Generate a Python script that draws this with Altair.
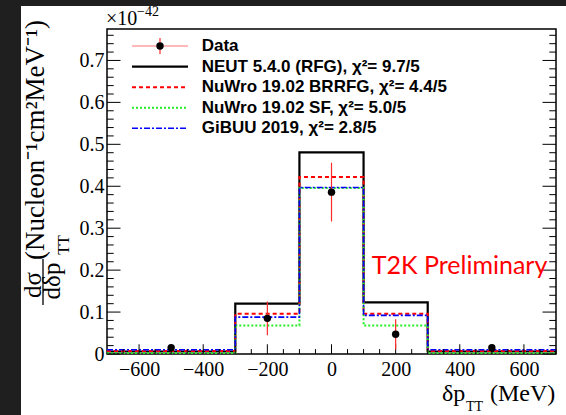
import altair as alt
import pandas as pd
import numpy as np

# ---------------- data ----------------
bin_edges = [-700, -300, -100, 100, 300, 700]
neut = [0.006, 0.120, 0.481, 0.123, 0.006]
nuwro_brrfg = [0.007, 0.096, 0.422, 0.096, 0.007]
nuwro_sf = [0.002, 0.068, 0.396, 0.068, 0.002]
gibuu = [0.010, 0.088, 0.397, 0.092, 0.010]

data_x = [-500, -200, 0, 200, 500]
data_y = [0.015, 0.085, 0.386, 0.047, 0.015]
data_err = [0.004, 0.040, 0.070, 0.036, 0.004]

x_tick_labels = [-600, -400, -200, 0, 200, 400, 600]
y_tick_labels = [0, 0.1, 0.2, 0.3, 0.4, 0.5, 0.6, 0.7]
x_minor = [v for v in range(-650, 701, 50) if v % 200 != 0]
y_minor = [round(0.02 * k, 3) for k in range(0, 39) if k % 5 != 0]

legend_labels = [
    "Data",
    "NEUT 5.4.0 (RFG),  χ²= 9.7/5",
    "NuWro 19.02 BRRFG, χ²= 4.4/5",
    "NuWro 19.02 SF, χ²= 5.0/5",
    "GiBUU 2019, χ²= 2.8/5",
]

# ---------------- layout ----------------
W, H = 449, 325
PADL, PADT = 107, 29
XS = alt.Scale(domain=[-700, 700], nice=False, zero=False)
YS = alt.Scale(domain=[0, 0.775], nice=False, zero=False)
SERIF = "Liberation Serif"

xaxis = alt.Axis(values=x_tick_labels, ticks=False, domain=False, grid=False,
                 labelFont=SERIF, labelFontSize=20, labelColor="black",
                 labelPadding=5, title=None, labelFlush=False)
yaxis = alt.Axis(values=y_tick_labels, ticks=False, domain=False, grid=False,
                 labelFont=SERIF, labelFontSize=20, labelColor="black",
                 labelPadding=3, title=None, labelFlush=False,
                 labelExpr="datum.value == 0 ? '0' : format(datum.value, '.1f')")

one = pd.DataFrame({"a": [0]})
layers = []

# dark surroundings
layers.append(alt.Chart(one).mark_rect(color="#1f1f1f").encode(
    x=alt.value(-PADL), x2=alt.value(21 - PADL), y=alt.value(-PADT), y2=alt.value(415 - PADT)))
layers.append(alt.Chart(one).mark_rect(color="#1f1f1f").encode(
    x=alt.value(21 - PADL), x2=alt.value(566 - PADL), y=alt.value(-PADT), y2=alt.value(6 - PADT)))


def hist_layer(vals, color, dash, width):
    df = pd.DataFrame({"x": bin_edges, "y": vals + [vals[-1]]})
    kw = dict(color=color, strokeWidth=width, interpolate="step-after", clip=True)
    if dash:
        kw["strokeDash"] = dash
    return alt.Chart(df).mark_line(**kw).encode(
        x=alt.X("x:Q", scale=XS, axis=xaxis),
        y=alt.Y("y:Q", scale=YS, axis=yaxis),
        order="x:Q")


styles = [
    (neut, "black", None, 2.2),
    (nuwro_brrfg, "#ff0000", [4, 3], 2),
    (nuwro_sf, "#22ee22", [2, 2], 2),
    (gibuu, "#0000ff", [6, 2, 2, 2], 1.6),
]
for vals, c, d, w in styles:
    layers.append(hist_layer(vals, c, d, w))

# ticks (ROOT style, inward)
ymaj = pd.DataFrame({"v": y_tick_labels})
ymin = pd.DataFrame({"v": y_minor})
xmaj = pd.DataFrame({"v": x_tick_labels})
xmin = pd.DataFrame({"v": x_minor})
for df, ln in ((ymaj, 13.5), (ymin, 6.7)):
    layers.append(alt.Chart(df).mark_rule(color="black", strokeWidth=1).encode(
        y=alt.Y("v:Q", scale=YS, axis=yaxis), x=alt.value(0), x2=alt.value(ln)))
    layers.append(alt.Chart(df).mark_rule(color="black", strokeWidth=1).encode(
        y=alt.Y("v:Q", scale=YS, axis=yaxis), x=alt.value(W - ln), x2=alt.value(W)))
for df, ln in ((xmaj, 9.75), (xmin, 4.9)):
    layers.append(alt.Chart(df).mark_rule(color="black", strokeWidth=1).encode(
        x=alt.X("v:Q", scale=XS, axis=xaxis), y=alt.value(H), y2=alt.value(H - ln)))

# data points
ddf = pd.DataFrame({"x": data_x, "y": data_y, "err": data_err})
ddf["lo"] = ddf["y"] - ddf["err"]
ddf["hi"] = ddf["y"] + ddf["err"]
layers.append(alt.Chart(ddf).mark_rule(color="#ff2a2a", strokeWidth=1.2).encode(
    x=alt.X("x:Q", scale=XS, axis=xaxis), y=alt.Y("lo:Q", scale=YS, axis=yaxis), y2="hi:Q"))
layers.append(alt.Chart(ddf).mark_circle(color="black", opacity=1, size=55).encode(
    x=alt.X("x:Q", scale=XS, axis=xaxis), y=alt.Y("y:Q", scale=YS, axis=yaxis)))

# legend
rows = [46 - PADT, 66.7 - PADT, 87.3 - PADT, 107.7 - PADT, 128.3 - PADT]
sx0, sx1, tx = 132 - PADL, 188 - PADL, 201.7 - PADL
# data symbol
layers.append(alt.Chart(one).mark_rule(color="#ff7070", strokeWidth=1.2).encode(
    x=alt.value(sx0), x2=alt.value(sx1), y=alt.value(rows[0])))
layers.append(alt.Chart(one).mark_rule(color="#ff2a2a", strokeWidth=1.2).encode(
    x=alt.value((sx0 + sx1) / 2), y=alt.value(rows[0] - 8), y2=alt.value(rows[0] + 8)))
layers.append(alt.Chart(one).mark_circle(color="black", opacity=1, size=55).encode(
    x=alt.value((sx0 + sx1) / 2), y=alt.value(rows[0])))
for i, (vals, c, d, w) in enumerate(styles):
    kw = dict(color=c, strokeWidth=w)
    if d:
        kw["strokeDash"] = d
    layers.append(alt.Chart(one).mark_rule(**kw).encode(
        x=alt.value(sx0), x2=alt.value(sx1), y=alt.value(rows[i + 1])))
for i, lab in enumerate(legend_labels):
    layers.append(alt.Chart(pd.DataFrame({"t": [lab]})).mark_text(
        font="Liberation Sans", fontSize=17, fontWeight="bold", color="black",
        align="left", baseline="middle").encode(
        text="t:N", x=alt.value(tx), y=alt.value(rows[i])))

# T2K Preliminary
layers.append(alt.Chart(pd.DataFrame({"t": ["T2K Preliminary"]})).mark_text(
    font="Lato", fontSize=25, color="#ff0000", align="left", baseline="alphabetic").encode(
    text="t:N", x=alt.value(371.7 - PADL), y=alt.value(273.5 - PADT)))


def txt(s, x, y, size, angle=0, align="left", baseline="alphabetic"):
    kw = dict(font=SERIF, fontSize=size, color="black", align=align, baseline=baseline)
    if angle:
        kw["angle"] = angle
    return alt.Chart(pd.DataFrame({"t": [s]})).mark_text(**kw).encode(
        text="t:N", x=alt.value(x - PADL), y=alt.value(y - PADT))


# x10^-42
layers.append(txt("×10", 106, 25, 20))
layers.append(txt("−42", 137, 16, 14))
# x axis title
layers.append(txt("δp", 442, 401, 24))
layers.append(txt("TT", 466, 411, 14))
layers.append(txt("(MeV)", 490, 401, 24))
# y axis title (rotated)
layers.append(txt("(Nucleon⁻¹cm²MeV⁻¹)", 36, 140, 27, angle=270, align="center", baseline="middle"))
layers.append(txt("dσ", 33, 285, 25, angle=270, align="center", baseline="middle"))
layers.append(txt("dδp", 52, 281, 25, angle=270, align="center", baseline="middle"))
layers.append(txt("TT", 64, 245, 16, angle=270, align="center", baseline="middle"))
layers.append(alt.Chart(one).mark_rule(color="black", strokeWidth=1.3).encode(
    x=alt.value(43 - PADL), y=alt.value(259 - PADT), y2=alt.value(305 - PADT)))

chart = alt.layer(*layers).properties(
    width=W, height=H,
    autosize=alt.AutoSizeParams(type="none"),
    padding={"left": PADL, "top": PADT, "right": 566 - PADL - W, "bottom": 415 - PADT - H},
    background="white",
).configure_view(stroke="black", strokeWidth=1.5)

chart.save("out.html", embed_options={"renderer": "svg", "actions": False})
